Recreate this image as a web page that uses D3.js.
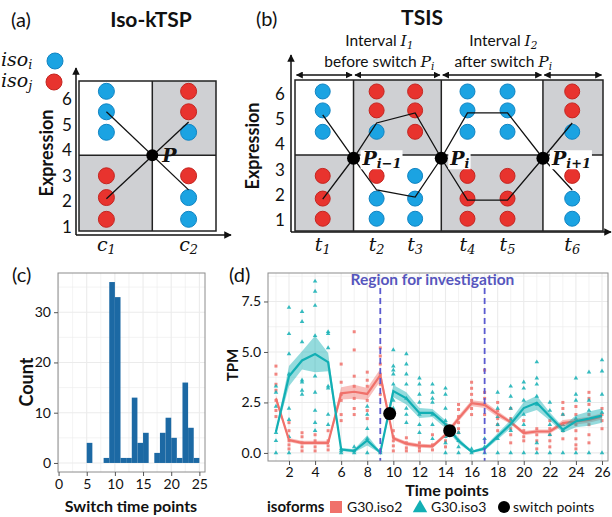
<!DOCTYPE html>
<html>
<head>
<meta charset="utf-8">
<script src="https://d3js.org/d3.v7.min.js"></script>
<style>
  body { margin: 0; background: #fff; }
  text { font-family: Lato, "Open Sans", sans-serif; fill: #111; }
</style>
</head>
<body>
<div id="viz"></div>
<script>

// ---------- data ----------
// (a) Iso-kTSP schematic: two conditions, three samples each
var condNames = ["1", "2"];
var condPos = [2, 8];                       // on a 0-10 schematic axis
var dotLevelsA = [6.3, 5.5, 4.7, 3.0, 2.15, 1.3];
var condColours = [["i", "i", "i", "j", "j", "j"],
                   ["j", "j", "i", "j", "i", "i"]];
var condMeanI = [5.5, 2.45];
var condMeanJ = [2.1, 5.1];
var kSwitch = { x: 5.35, y: 3.8 };

// (b) TSIS schematic: six time points
var timeNames = ["1", "2", "3", "4", "5", "6"];
var timePos = [0.9, 2.65, 3.9, 5.6, 6.9, 9.0];
var dotLevelsB = [6.1, 5.35, 4.5, 2.75, 1.85, 1.05];
var timeColours = [["i", "i", "i", "j", "j", "j"],
                   ["j", "j", "i", "j", "i", "i"],
                   ["j", "j", "j", "i", "i", "i"],
                   ["i", "i", "i", "j", "j", "j"],
                   ["i", "i", "i", "j", "j", "j"],
                   ["j", "j", "i", "j", "i", "i"]];
var timeMeanI = [5.17, 2.19, 1.91, 5.25, 5.25, 2.19];
var timeMeanJ = [1.83, 4.85, 5.25, 1.79, 1.79, 4.85];
var switchPos = [1.9, 4.75, 8.05];
var switchLevel = 3.45;
var switchSubs = ["i\u22121", "i", "i+1"];
var midLevel = 3.58;

// (c) histogram of switch time points
var binStart = [5, 6, 7, 8, 9, 10, 11, 12, 13, 14, 15, 16, 17, 18, 19, 20, 21, 22, 23, 24];
var binCount = [4, 0, 0, 1, 36, 33, 1, 1, 13, 4, 6, 0, 2, 6, 9, 5, 1, 16, 7, 1];

// (d) G30 isoform expression over 26 time points
var timePoints = d3.range(1, 27);
var iso2Mean = [2.7, 0.64, 0.5, 0.5, 0.5, 2.95, 3.03, 2.92, 3.85, 0.73, 0.46, 0.36, 0.33,
                0.9, 1.7, 2.46, 2.38, 1.93, 1.52, 0.98, 1.06, 1.06, 1.48, 1.56, 1.64, 1.81];
var iso3Mean = [1.05, 3.8, 4.58, 4.9, 4.5, 0.17, 0.1, 0.62, 0.02, 3.06, 2.7, 1.98, 1.98,
                1.42, 0.6, 0.06, 0.22, 0.82, 1.43, 2.22, 2.48, 1.8, 1.15, 1.57, 1.7, 1.85];
var iso2Se = [0.15, 0.1, 0.1, 0.1, 0.1, 0.3, 0.35, 0.3, 0.3, 0.1, 0.1, 0.1, 0.1,
              0.1, 0.15, 0.15, 0.15, 0.15, 0.1, 0.1, 0.1, 0.1, 0.15, 0.15, 0.15, 0.15];
var iso3Se = [0.1, 0.5, 0.45, 0.9, 0.45, 0.08, 0.08, 0.25, 0.05, 0.3, 0.3, 0.25, 0.2,
              0.2, 0.15, 0.05, 0.1, 0.15, 0.2, 0.3, 0.35, 0.2, 0.15, 0.3, 0.35, 0.35];
var iso2Reps = [
  [4.3, 3.9, 3.4, 3.1, 2.6, 2.1, 1.8], [1.5, 1.1, 0.6, 0.4, 0.2], [1.0, 0.8, 0.5, 0.3, 0.1],
  [0.9, 0.6, 0.3, 0.1], [1.1, 0.6, 0.35, 0.15], [4.4, 3.5, 2.9, 2.6, 1.9, 1.6],
  [6.0, 5.1, 3.8, 3.3, 2.7, 2.2, 1.9], [4.0, 3.6, 3.3, 2.6, 2.1, 1.7], [5.2, 4.8, 4.4, 3.9, 3.4, 2.9],
  [1.1, 0.8, 0.6, 0.35, 0.1], [0.75, 0.5, 0.25, 0.1], [0.5, 0.25, 0.1], [0.9, 0.4, 0.15],
  [1.4, 1.2, 0.9, 0.6, 0.3], [2.4, 2.15, 1.8, 1.5, 1.2, 1.0], [3.5, 3.2, 2.9, 2.6, 2.2, 1.9],
  [4.1, 3.0, 2.7, 2.4, 1.9], [2.5, 2.1, 1.7, 1.4, 1.1], [2.2, 1.7, 1.2, 0.9, 0.5],
  [1.6, 1.1, 0.8, 0.6], [1.2, 0.9, 0.6, 0.2], [1.6, 1.2, 0.9, 0.6, 0.3],
  [2.5, 2.2, 1.9, 1.4, 1.1, 0.7], [2.3, 1.9, 1.4, 1.1, 0.7, 0.4, 0.2],
  [3.0, 2.7, 2.4, 1.9, 1.4, 0.9, 0.5], [2.2, 1.9, 1.6, 1.2]];
var iso3Reps = [
  [3.3, 3.0, 2.3, 1.0, 0.6, 0.0], [7.2, 5.9, 4.9, 3.9, 2.2, 1.65, 0.8, 0.0],
  [7.0, 6.5, 5.5, 3.6, 3.5, 3.1, 2.9], [8.5, 8.0, 7.3, 5.8, 3.8, 3.0, 2.1, 1.5, 1.1],
  [6.0, 5.9, 5.2, 3.3, 3.2, 1.9, 1.4], [0.2, 0.1, 0.0], [0.3, 0.1, 0.0],
  [2.3, 1.9, 1.2, 0.7, 0.0], [0.1, 0.0], [5.1, 4.3, 4.1, 3.9, 3.4, 2.6, 2.2],
  [4.9, 4.4, 3.9, 3.4, 2.7, 2.2, 1.9, 1.5], [3.7, 3.4, 2.9, 2.5, 1.9, 1.4, 1.0],
  [3.4, 3.0, 2.7, 2.5, 1.9, 1.4, 0.7], [3.2, 2.9, 2.2, 1.6, 0.8, 0.5, 0.0],
  [1.0, 0.6, 0.3, 0.0], [0.2, 0.0], [0.7, 0.3, 0.0], [3.0, 2.2, 1.8, 1.4, 0.7, 0.0],
  [3.3, 2.8, 2.2, 1.65, 1.1, 0.0], [3.5, 3.2, 2.6, 1.9, 1.4, 0.0],
  [4.5, 3.7, 3.4, 2.8, 2.4, 0.5, 0.0], [2.5, 2.1, 1.4, 0.9, 0.0], [1.9, 1.4, 1.1, 0.0],
  [3.7, 2.9, 2.6, 1.7, 0.0], [4.0, 2.6, 2.1, 0.0], [4.6, 4.05, 2.9, 2.0, 0.0]];
var switchTime = [9.72, 14.32];
var switchTPM = [1.95, 1.1];
var regionBounds = [9, 17];

// ---------- helpers ----------
var blue = "#1ba3e2", red = "#e8332e", gray = "#cfd0d3";
var col2 = "#f0716b", col3 = "#12afb4";
var dotFill = { i: blue, j: red };
var dotEdge = { i: "#1184c2", j: "#c42520" };

var svg = d3.select("#viz").append("svg")
    .attr("width", 612).attr("height", 517);

svg.append("defs").append("marker")
    .attr("id", "head").attr("viewBox", "0 0 10 10")
    .attr("refX", 9).attr("refY", 5)
    .attr("markerWidth", 5).attr("markerHeight", 5)
    .attr("orient", "auto-start-reverse")
    .append("path").attr("d", "M0,0L10,5L0,10z").attr("fill", "#111");

// text made of plain / math / subscript parts
function rich(g, x, y, parts, anchor, size) {
    var t = g.append("text").attr("x", x).attr("y", y)
        .attr("text-anchor", anchor || "start").attr("font-size", size);
    var shift = 0;
    parts.forEach(function (p) {
        var s = t.append("tspan").text(p.t);
        if (p.math) s.attr("font-family", "DejaVu Serif").attr("font-style", "italic");
        if (p.bold) s.attr("font-weight", "bold");
        var want = p.sub ? Math.round(size * 0.18) : 0;
        if (want !== shift) s.attr("dy", want - shift);
        shift = want;
        if (p.sub) s.attr("font-size", size * 0.68);
    });
    return t;
}

function schematicAxes(g, x0, yTop, yBottom, xRight) {
    g.append("line").attr("x1", x0).attr("y1", yBottom).attr("x2", x0).attr("y2", yTop)
        .attr("stroke", "#111").attr("stroke-width", 1.5).attr("marker-end", "url(#head)");
    g.append("line").attr("x1", x0).attr("y1", yBottom).attr("x2", xRight).attr("y2", yBottom)
        .attr("stroke", "#111").attr("stroke-width", 1.5).attr("marker-end", "url(#head)");
}

// ---------- (a) ----------
var gA = svg.append("g");
var xA = d3.scaleLinear().domain([0, 10]).range([79, 216]);
var yA = d3.scaleLinear().domain([1, 6]).range([227, 99]);
var boxTopA = 81, boxBotA = 231;

gA.append("text").attr("x", 11).attr("y", 27).attr("font-size", 20).text("(a)");
gA.append("text").attr("x", 151).attr("y", 27).attr("font-size", 21)
    .attr("font-weight", "bold").attr("text-anchor", "middle").text("Iso-kTSP");

// legend
rich(gA, 1, 66, [{ t: "iso", math: 1 }, { t: "i", math: 1, sub: 1 }], "start", 19);
rich(gA, 1, 87, [{ t: "iso", math: 1 }, { t: "j", math: 1, sub: 1 }], "start", 19);
gA.append("circle").attr("cx", 55).attr("cy", 61).attr("r", 8).attr("fill", blue).attr("stroke", dotEdge.i);
gA.append("circle").attr("cx", 54).attr("cy", 82).attr("r", 8).attr("fill", red).attr("stroke", dotEdge.j);

schematicAxes(gA, 76, 68, 235, 231);

var pxA = xA(kSwitch.x), pyA = yA(kSwitch.y);
gA.append("rect").attr("x", pxA).attr("y", boxTopA).attr("width", xA(10) - pxA)
    .attr("height", pyA - boxTopA).attr("fill", gray);
gA.append("rect").attr("x", xA(0)).attr("y", pyA).attr("width", pxA - xA(0))
    .attr("height", boxBotA - pyA).attr("fill", gray);
gA.append("rect").attr("x", xA(0)).attr("y", boxTopA).attr("width", xA(10) - xA(0))
    .attr("height", boxBotA - boxTopA).attr("fill", "none").attr("stroke", "#222").attr("stroke-width", 1.5);
gA.append("line").attr("x1", pxA).attr("x2", pxA).attr("y1", boxTopA).attr("y2", boxBotA)
    .attr("stroke", "#222").attr("stroke-width", 1.5);
gA.append("line").attr("x1", xA(0)).attr("x2", xA(10)).attr("y1", pyA).attr("y2", pyA)
    .attr("stroke", "#222").attr("stroke-width", 1.5);

condPos.forEach(function (c, ci) {
    gA.selectAll(null).data(dotLevelsA).enter().append("circle")
        .attr("cx", xA(c)).attr("cy", function (d) { return yA(d); }).attr("r", 8)
        .attr("fill", function (d, k) { return dotFill[condColours[ci][k]]; })
        .attr("stroke", function (d, k) { return dotEdge[condColours[ci][k]]; });
    rich(gA, xA(c), 251, [{ t: "c", math: 1 }, { t: condNames[ci], math: 1, sub: 1 }], "middle", 19);
});
[condMeanI, condMeanJ].forEach(function (m) {
    gA.append("line").attr("x1", xA(condPos[0])).attr("y1", yA(m[0]))
        .attr("x2", xA(condPos[1])).attr("y2", yA(m[1]))
        .attr("stroke", "#111").attr("stroke-width", 1.3);
});
gA.append("circle").attr("cx", pxA).attr("cy", pyA).attr("r", 6).attr("fill", "#000");
rich(gA, pxA + 10, pyA + 7, [{ t: "P", math: 1, bold: 1 }], "start", 19);

gA.selectAll(null).data(d3.range(1, 7)).enter().append("text")
    .attr("x", 67).attr("y", function (d) { return yA(d) + 6; })
    .attr("text-anchor", "middle").attr("font-size", 17).text(function (d) { return d; });
gA.append("text").attr("transform", "translate(53,153) rotate(-90)")
    .attr("text-anchor", "middle").attr("font-size", 18).attr("font-weight", "bold").text("Expression");

// ---------- (b) ----------
var gB = svg.append("g");
var xB = d3.scaleLinear().domain([0, 10]).range([295, 603]);
var yB = d3.scaleLinear().domain([1, 6]).range([220, 94]);
var boxTopB = 80, boxBotB = 231;
var bounds = [0].concat(switchPos, [10]);

gB.append("text").attr("x", 256).attr("y", 26).attr("font-size", 20).text("(b)");
gB.append("text").attr("x", 422).attr("y", 25).attr("font-size", 21)
    .attr("font-weight", "bold").attr("text-anchor", "middle").text("TSIS");

var pI = xB(switchPos[1]);
rich(gB, pI - 62, 46, [{ t: "Interval " }, { t: "I", math: 1 }, { t: "1", math: 1, sub: 1 }], "middle", 15.5);
rich(gB, pI - 62, 67, [{ t: "before switch " }, { t: "P", math: 1 }, { t: "i", math: 1, sub: 1 }], "middle", 15.5);
rich(gB, pI + 62, 46, [{ t: "Interval " }, { t: "I", math: 1 }, { t: "2", math: 1, sub: 1 }], "middle", 15.5);
rich(gB, pI + 62, 67, [{ t: "after switch " }, { t: "P", math: 1 }, { t: "i", math: 1, sub: 1 }], "middle", 15.5);

d3.pairs(bounds).forEach(function (p) {
    gB.append("line").attr("x1", xB(p[0]) + 1.5).attr("x2", xB(p[1]) - 1.5).attr("y1", 75).attr("y2", 75)
        .attr("stroke", "#111").attr("stroke-width", 1.4)
        .attr("marker-start", "url(#head)").attr("marker-end", "url(#head)");
});

schematicAxes(gB, 291, 55, 232, 611);

var midB = yB(midLevel);
d3.pairs(bounds).forEach(function (p, k) {
    var top = k % 2 === 1;
    gB.append("rect").attr("x", xB(p[0])).attr("width", xB(p[1]) - xB(p[0]))
        .attr("y", top ? boxTopB : midB).attr("height", top ? midB - boxTopB : boxBotB - midB)
        .attr("fill", gray);
});
gB.append("rect").attr("x", xB(0)).attr("y", boxTopB).attr("width", xB(10) - xB(0))
    .attr("height", boxBotB - boxTopB).attr("fill", "none").attr("stroke", "#222").attr("stroke-width", 1.5);
switchPos.forEach(function (s) {
    gB.append("line").attr("x1", xB(s)).attr("x2", xB(s)).attr("y1", boxTopB).attr("y2", boxBotB)
        .attr("stroke", "#222").attr("stroke-width", 1.5);
});
gB.append("line").attr("x1", xB(0)).attr("x2", xB(10)).attr("y1", midB).attr("y2", midB)
    .attr("stroke", "#222").attr("stroke-width", 1.5);

timePos.forEach(function (t, ti) {
    gB.selectAll(null).data(dotLevelsB).enter().append("circle")
        .attr("cx", xB(t)).attr("cy", function (d) { return yB(d); }).attr("r", 7.5)
        .attr("fill", function (d, k) { return dotFill[timeColours[ti][k]]; })
        .attr("stroke", function (d, k) { return dotEdge[timeColours[ti][k]]; });
    rich(gB, xB(t), 251, [{ t: "t", math: 1 }, { t: timeNames[ti], math: 1, sub: 1 }], "middle", 19);
});

function meanPath(means) {
    var pts = timePos.map(function (t, k) { return [t, means[k]]; })
        .concat(switchPos.map(function (s) { return [s, switchLevel]; }))
        .sort(function (a, b) { return a[0] - b[0]; });
    return d3.line().x(function (d) { return xB(d[0]); }).y(function (d) { return yB(d[1]); })(pts);
}
[timeMeanI, timeMeanJ].forEach(function (m) {
    gB.append("path").attr("d", meanPath(m)).attr("fill", "none")
        .attr("stroke", "#111").attr("stroke-width", 1.3);
});

switchPos.forEach(function (s, k) {
    var lab = rich(gB, xB(s) + 9, yB(switchLevel) + 7,
        [{ t: "P", math: 1, bold: 1 }, { t: switchSubs[k], math: 1, bold: 1, sub: 1 }], "start", 19);
    var bb = lab.node().getBBox();
    gB.insert("rect", function () { return lab.node(); })
        .attr("x", bb.x - 1).attr("y", bb.y + 3).attr("width", bb.width + 2).attr("height", bb.height - 5)
        .attr("fill", "#fff");
    gB.append("circle").attr("cx", xB(s)).attr("cy", yB(switchLevel)).attr("r", 6.5).attr("fill", "#000");
});

gB.selectAll(null).data(d3.range(1, 7)).enter().append("text")
    .attr("x", 280).attr("y", function (d) { return yB(d) + 6; })
    .attr("text-anchor", "middle").attr("font-size", 17).text(function (d) { return d; });
gB.append("text").attr("transform", "translate(259,146) rotate(-90)")
    .attr("text-anchor", "middle").attr("font-size", 18).attr("font-weight", "bold").text("Expression");

// ---------- (c) ----------
var gC = svg.append("g");
var xC = d3.scaleLinear().domain([-0.1, 26]).range([58, 205]);
var yC = d3.scaleLinear().domain([-1.8, 37.8]).range([472, 273]);

gC.append("text").attr("x", 12).attr("y", 282).attr("font-size", 20).text("(c)");

function grid(g, xs, ys, x, y, w) {
    g.selectAll(null).data(xs).enter().append("line")
        .attr("x1", x).attr("x2", x).attr("y1", y.range()[0]).attr("y2", y.range()[1])
        .attr("stroke", "#ebebeb").attr("stroke-width", w);
    g.selectAll(null).data(ys).enter().append("line")
        .attr("y1", y).attr("y2", y).attr("x1", x.range()[0]).attr("x2", x.range()[1])
        .attr("stroke", "#ebebeb").attr("stroke-width", w);
}
grid(gC, [2.5, 7.5, 12.5, 17.5, 22.5], [5, 15, 25, 35], xC, yC, 0.6);
grid(gC, d3.range(0, 26, 5), [0, 10, 20, 30], xC, yC, 1.1);

gC.selectAll(null).data(binStart.filter(function (d, k) { return binCount[k] > 0; }))
    .enter().append("rect")
    .attr("x", function (d) { return xC(d); })
    .attr("width", function (d) { return xC(d + 1) - xC(d); })
    .attr("y", function (d) { return yC(binCount[binStart.indexOf(d)]); })
    .attr("height", function (d) { return yC(0) - yC(binCount[binStart.indexOf(d)]); })
    .attr("fill", "#1c69a4");

gC.append("rect").attr("x", 58).attr("y", 273).attr("width", 147).attr("height", 199)
    .attr("fill", "none").attr("stroke", "#8c8c8c");

function styleAxis(a) {
    a.select(".domain").remove();
    a.selectAll(".tick line").attr("stroke", "#555");
    a.selectAll(".tick text").attr("fill", "#4d4d4d").attr("font-size", 14)
        .attr("font-family", "Lato, sans-serif");
}
gC.append("g").attr("transform", "translate(58,0)")
    .call(d3.axisLeft(yC).tickValues([0, 10, 20, 30]).tickSize(4).tickPadding(3)).call(styleAxis);
gC.append("g").attr("transform", "translate(0,472)")
    .call(d3.axisBottom(xC).tickValues(d3.range(0, 26, 5)).tickSize(4).tickPadding(3)).call(styleAxis);

gC.append("text").attr("transform", "translate(33,382) rotate(-90)")
    .attr("text-anchor", "middle").attr("font-size", 18).attr("font-weight", "bold").text("Count");
gC.append("text").attr("x", 131).attr("y", 512).attr("text-anchor", "middle")
    .attr("font-size", 16).attr("font-weight", "bold").text("Switch time points");

// ---------- (d) ----------
var gD = svg.append("g");
var xD = d3.scaleLinear().domain([0.39, 26.46]).range([268, 608]);
var yD = d3.scaleLinear().domain([-0.4, 8.91]).range([461, 273]);

gD.append("text").attr("x", 229).attr("y", 282).attr("font-size", 20).text("(d)");

grid(gD, d3.range(1, 27, 2), [1.25, 3.75, 6.25, 8.75], xD, yD, 0.6);
grid(gD, d3.range(2, 27, 2), [0, 2.5, 5, 7.5], xD, yD, 1.1);

var reps2 = [], reps3 = [];
timePoints.forEach(function (t, k) {
    iso2Reps[k].forEach(function (v) { reps2.push([t, v]); });
    iso3Reps[k].forEach(function (v) { reps3.push([t, v]); });
});
gD.selectAll(null).data(reps2).enter().append("path")
    .attr("d", d3.symbol(d3.symbolSquare, 9))
    .attr("transform", function (d) { return "translate(" + xD(d[0]) + "," + yD(d[1]) + ")"; })
    .attr("fill", col2).attr("opacity", 0.85);
gD.selectAll(null).data(reps3).enter().append("path")
    .attr("d", d3.symbol(d3.symbolTriangle, 9))
    .attr("transform", function (d) { return "translate(" + xD(d[0]) + "," + yD(d[1]) + ")"; })
    .attr("fill", col3).attr("opacity", 0.85);

function ribbon(mean, se, colour) {
    gD.append("path").datum(timePoints)
        .attr("d", d3.area().x(function (t) { return xD(t); })
            .y0(function (t, k) { return yD(mean[k] - se[k]); })
            .y1(function (t, k) { return yD(mean[k] + se[k]); }))
        .attr("fill", colour).attr("opacity", 0.45);
    gD.append("path").datum(timePoints)
        .attr("d", d3.line().x(function (t) { return xD(t); }).y(function (t, k) { return yD(mean[k]); }))
        .attr("fill", "none").attr("stroke", colour).attr("stroke-width", 2.2);
}
ribbon(iso2Mean, iso2Se, col2);
ribbon(iso3Mean, iso3Se, col3);

regionBounds.forEach(function (t) {
    gD.append("line").attr("x1", xD(t)).attr("x2", xD(t)).attr("y1", 288).attr("y2", 461)
        .attr("stroke", "#5a5ad0").attr("stroke-width", 1.8).attr("stroke-dasharray", "6,4");
});
gD.append("text").attr("x", xD((regionBounds[0] + regionBounds[1]) / 2)).attr("y", 285)
    .attr("text-anchor", "middle").attr("font-size", 15.5).attr("font-weight", "bold")
    .style("fill", "#5656bd").text("Region for investigation");

gD.selectAll(null).data(switchTime).enter().append("circle")
    .attr("cx", function (d) { return xD(d); })
    .attr("cy", function (d, k) { return yD(switchTPM[k]); })
    .attr("r", 6.5).attr("fill", "#000");

gD.append("rect").attr("x", 268).attr("y", 273).attr("width", 340).attr("height", 188)
    .attr("fill", "none").attr("stroke", "#8c8c8c");

gD.append("g").attr("transform", "translate(268,0)")
    .call(d3.axisLeft(yD).tickValues([0, 2.5, 5, 7.5]).tickFormat(d3.format(".1f"))
        .tickSize(4).tickPadding(3)).call(styleAxis);
gD.append("g").attr("transform", "translate(0,461)")
    .call(d3.axisBottom(xD).tickValues(d3.range(2, 27, 2)).tickSize(4).tickPadding(2)).call(styleAxis);

gD.append("text").attr("transform", "translate(238,365) rotate(-90)")
    .attr("text-anchor", "middle").attr("font-size", 15).attr("font-weight", "bold").text("TPM");
gD.append("text").attr("x", 447).attr("y", 496).attr("text-anchor", "middle")
    .attr("font-size", 16).attr("font-weight", "bold").text("Time points");

// legend
var lg = gD.append("g");
lg.append("text").attr("x", 267).attr("y", 512).attr("font-size", 15).attr("font-weight", "bold").text("isoforms");
lg.append("rect").attr("x", 330).attr("y", 501).attr("width", 12).attr("height", 12).attr("fill", col2);
lg.append("text").attr("x", 347).attr("y", 512).attr("font-size", 14).text("G30.iso2");
lg.append("path").attr("d", d3.symbol(d3.symbolTriangle, 90)).attr("transform", "translate(420,508)").attr("fill", col3);
lg.append("text").attr("x", 431).attr("y", 512).attr("font-size", 14).text("G30.iso3");
lg.append("circle").attr("cx", 504).attr("cy", 507).attr("r", 6).attr("fill", "#000");
lg.append("text").attr("x", 513).attr("y", 512).attr("font-size", 14).text("switch points");

</script>
</body>
</html>
